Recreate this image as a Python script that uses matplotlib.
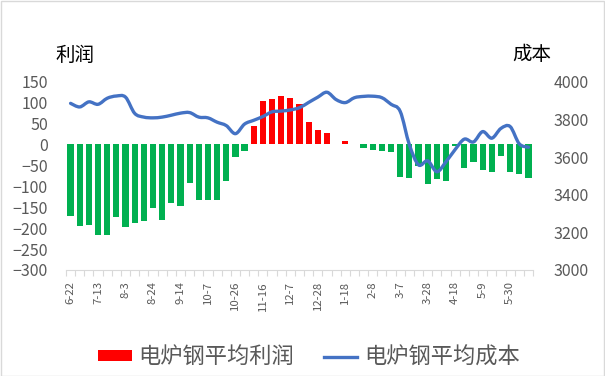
import matplotlib
matplotlib.use("Agg")
import matplotlib.pyplot as plt
import numpy as np
from matplotlib.path import Path
from matplotlib.patches import PathPatch, Rectangle, Patch
from matplotlib.lines import Line2D

plt.rcParams['font.family'] = ['Noto Sans CJK SC', 'DejaVu Sans']

dates = ["6-22", "6-29", "7-6", "7-13", "7-20", "7-27", "8-3", "8-10", "8-17", "8-24",
         "8-31", "9-7", "9-14", "9-21", "9-28", "10-7", "10-12", "10-19", "10-26", "11-2",
         "11-9", "11-16", "11-23", "11-30", "12-7", "12-14", "12-21", "12-28", "1-4", "1-11",
         "1-18", "1-25", "2-1", "2-8", "2-15", "2-22", "3-7", "3-14", "3-21", "3-28",
         "4-4", "4-11", "4-18", "4-25", "5-2", "5-9", "5-16", "5-23", "5-30", "6-6", "6-13"]

profit = [-172, -196, -192, -216, -216, -174, -197, -188, -184, -152,
          -180, -140, -146, -92, -132, -132, -132, -88, -30, -15,
          45, 103, 108, 115, 112, 97, 53, 35, 27, 2,
          9, 1, -8, -14, -16, -18, -78, -80, -52, -94,
          -82, -88, -3, -56, -42, -60, -66, -28, -66, -70, -80]

cost = [3885, 3866, 3893, 3880, 3912, 3924, 3918, 3832, 3812, 3808,
        3812, 3822, 3833, 3836, 3812, 3808, 3785, 3767, 3724, 3775,
        3795, 3815, 3840, 3844, 3850, 3862, 3890, 3918, 3944, 3905,
        3889, 3915, 3922, 3923, 3915, 3880, 3842, 3665, 3558, 3580,
        3522, 3575, 3640, 3695, 3680, 3735, 3700, 3752, 3762, 3670, 3652]

left_ticks = [150, 100, 50, 0, -50, -100, -150, -200, -250, -300]
right_ticks = [4000, 3800, 3600, 3400, 3200, 3000]

label_bar = "电炉钢平均利润"
label_line = "电炉钢平均成本"

RED = "#FF0000"
GREEN = "#00B050"
BLUE = "#4472C4"
TXT = "#595959"
AXC = "#D9D9D9"

W, H = 605, 376
fig = plt.figure(figsize=(W / 100, H / 100), dpi=100)
fig.patches.append(Rectangle((0.5 / W, 0.5 / H), 1 - 1.5 / W, 1 - 1.5 / H,
                             transform=fig.transFigure, fill=False,
                             edgecolor=AXC, lw=1.0))

ax = fig.add_axes([66 / W, 1 - 270 / H, (533 - 66) / W, (270 - 81.7) / H])
x = np.arange(len(dates))
colors = [RED if v >= 0 else GREEN for v in profit]
ax.bar(x, profit, width=0.68, color=colors, zorder=2)
ax.set_xlim(-0.5, len(dates) - 0.5)
ax.set_ylim(-300, 150)
ax.set_yticks(left_ticks)
ax.tick_params(axis='y', length=0, pad=13, labelsize=11.5, labelcolor=TXT)

ax.set_xticks(x[::3])
ax.set_xticklabels(dates[::3], rotation=90, fontsize=8.2, color=TXT)
ax.set_xticks(np.arange(-0.5, len(dates), 1), minor=True)
ax.tick_params(axis='x', which='major', length=0, pad=8)
ax.tick_params(axis='x', which='minor', length=4, color=AXC, width=0.8)
for s in ['top', 'left', 'right']:
    ax.spines[s].set_visible(False)
ax.spines['bottom'].set_color(AXC)
ax.spines['bottom'].set_linewidth(0.8)

ax2 = ax.twinx()
ax2.set_ylim(3000, 4000)
ax2.set_yticks(right_ticks)
ax2.tick_params(axis='y', length=0, pad=14.5, labelsize=11.5, labelcolor=TXT)
for s in ['top', 'left', 'right', 'bottom']:
    ax2.spines[s].set_visible(False)

# smoothed line (Catmull-Rom -> Bezier) through the data points
px = x.astype(float)
py = np.array(cost, dtype=float)
verts = [(px[0], py[0])]
codes = [Path.MOVETO]
n = len(px)
for i in range(n - 1):
    p0 = np.array([px[max(i - 1, 0)], py[max(i - 1, 0)]])
    p1 = np.array([px[i], py[i]])
    p2 = np.array([px[i + 1], py[i + 1]])
    p3 = np.array([px[min(i + 2, n - 1)], py[min(i + 2, n - 1)]])
    c1 = p1 + (p2 - p0) / 6.0
    c2 = p2 - (p3 - p1) / 6.0
    verts += [tuple(c1), tuple(c2), tuple(p2)]
    codes += [Path.CURVE4, Path.CURVE4, Path.CURVE4]
path = Path(verts, codes)
ax2.add_patch(PathPatch(path, fill=False, edgecolor=BLUE, lw=2.4,
                        capstyle='round', joinstyle='round', zorder=3))

fig.text(75 / W, 1 - 55 / H, "利润", ha='center', va='center', fontsize=14, color='#000000')
fig.text(532 / W, 1 - 55 / H, "成本", ha='center', va='center', fontsize=14, color='#000000')

handles = [Patch(facecolor=RED, edgecolor='none'),
           Line2D([0], [0], color=BLUE, lw=2.4)]
fig.legend(handles, [label_bar, label_line], loc='center',
           bbox_to_anchor=(309 / W, 1 - 357 / H), ncol=2, frameon=False,
           fontsize=16, handlelength=1.5, handleheight=0.4, handletextpad=0.3,
           columnspacing=1.35, borderpad=0, labelcolor=TXT)

fig.savefig("out.png", dpi=100)
